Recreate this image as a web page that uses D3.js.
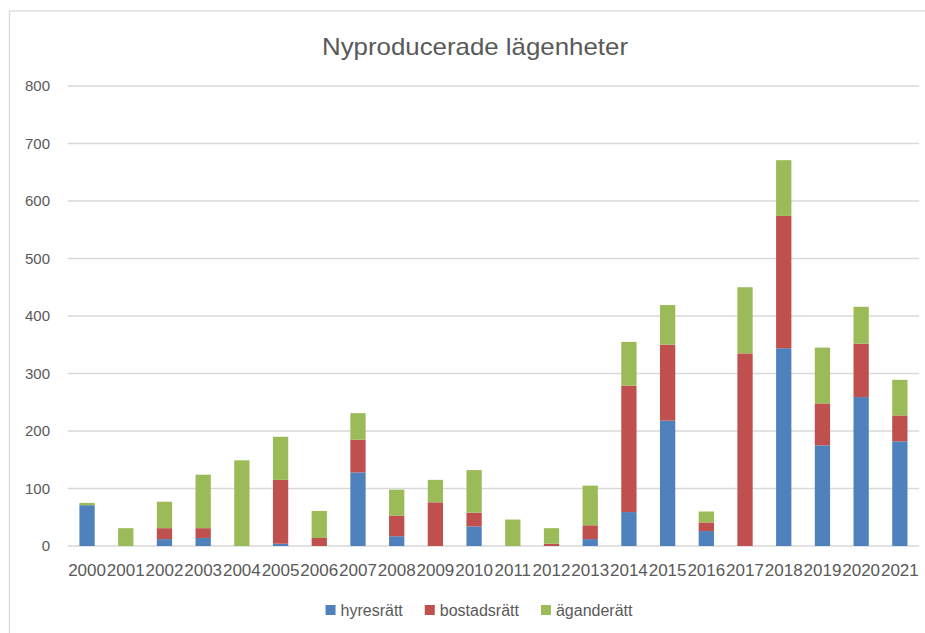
<!DOCTYPE html>
<html>
<head>
<meta charset="utf-8">
<script src="https://cdn.jsdelivr.net/npm/d3@7"></script>
<style>
  html, body { margin: 0; padding: 0; background: #fff; }
  svg { display: block; font-family: "Liberation Sans", Arial, sans-serif; }
</style>
</head>
<body>
<svg id="chart"></svg>
<script>
const width = 925;
const height = 633;

// -----------------------------
// DATA
// -----------------------------
const years = ["2000", "2001", "2002", "2003", "2004", "2005", "2006", "2007", "2008", "2009", "2010",
  "2011", "2012", "2013", "2014", "2015", "2016", "2017", "2018", "2019", "2020", "2021"];
const hyresratt = [71, 0, 12, 14, 0, 4, 0, 128, 17, 0, 34, 0, 0, 12, 59, 218, 26, 0, 344, 175, 259, 182];
const bostadsratt = [0, 0, 19, 17, 0, 111, 14, 57, 36, 76, 24, 0, 4, 24, 220, 132, 15, 335, 230, 73, 93, 45];
const aganderatt = [4, 31, 46, 93, 149, 75, 47, 46, 45, 39, 74, 46, 27, 69, 76, 69, 19, 115, 97, 97, 64, 62];
const seriesNames = ["hyresrätt", "bostadsrätt", "äganderätt"];
const seriesColors = ["#4F81BD", "#C0504D", "#9BBB59"];
const yTicks = [0, 100, 200, 300, 400, 500, 600, 700, 800];

const table = years.map((y, i) => ({
  year: y,
  "hyresrätt": hyresratt[i],
  "bostadsrätt": bostadsratt[i],
  "äganderätt": aganderatt[i]
}));

const svg = d3.select("#chart")
  .attr("width", width)
  .attr("height", height);

// chart frame (runs past the right/bottom edge)
svg.append("rect")
  .attr("x", 9.5).attr("y", 11)
  .attr("width", 1000).attr("height", 1000)
  .attr("fill", "#fff")
  .attr("stroke", "#d9d9d9")
  .attr("stroke-width", 1.3);

// -----------------------------
// SCALES
// -----------------------------
const plot = { left: 67.7, right: 919.2, top: 86, bottom: 546 };

const x = d3.scaleBand()
  .domain(years)
  .range([plot.left, plot.right])
  .paddingInner(0.605)
  .paddingOuter(0.3025);

const y = d3.scaleLinear()
  .domain([0, 800])
  .range([plot.bottom, plot.top]);

// -----------------------------
// GRID + Y LABELS
// -----------------------------
svg.append("g")
  .selectAll("line")
  .data(yTicks)
  .join("line")
  .attr("x1", plot.left)
  .attr("x2", plot.right)
  .attr("y1", d => y(d))
  .attr("y2", d => y(d))
  .attr("stroke", "#d9d9d9")
  .attr("stroke-width", 1.3);

svg.append("g")
  .selectAll("text")
  .data(yTicks)
  .join("text")
  .attr("x", 50)
  .attr("y", d => y(d))
  .attr("dy", "0.36em")
  .attr("text-anchor", "end")
  .attr("font-size", 15)
  .attr("fill", "#595959")
  .text(d => d);

// -----------------------------
// BARS
// -----------------------------
const stack = d3.stack().keys(seriesNames)(table);

svg.append("g")
  .selectAll("g")
  .data(stack)
  .join("g")
  .attr("fill", (d, i) => seriesColors[i])
  .selectAll("rect")
  .data(d => d)
  .join("rect")
  .attr("x", d => x(d.data.year))
  .attr("width", x.bandwidth())
  .attr("y", d => y(d[1]))
  .attr("height", d => y(d[0]) - y(d[1]));

// -----------------------------
// X LABELS
// -----------------------------
svg.append("g")
  .selectAll("text")
  .data(years)
  .join("text")
  .attr("x", d => x(d) + x.bandwidth() / 2)
  .attr("y", 576)
  .attr("text-anchor", "middle")
  .attr("font-size", 17)
  .attr("fill", "#595959")
  .text(d => d);

// -----------------------------
// TITLE
// -----------------------------
svg.append("text")
  .attr("x", 475)
  .attr("y", 55)
  .attr("text-anchor", "middle")
  .attr("font-size", 24)
  .attr("fill", "#595959")
  .attr("textLength", 306)
  .attr("lengthAdjust", "spacingAndGlyphs")
  .text("Nyproducerade lägenheter");

// -----------------------------
// LEGEND
// -----------------------------
const legend = svg.append("g");
const items = legend.selectAll("g")
  .data(seriesNames)
  .join("g");

items.append("rect")
  .attr("width", 10)
  .attr("height", 10)
  .attr("y", -5)
  .attr("fill", (d, i) => seriesColors[i]);

items.append("text")
  .attr("x", 15)
  .attr("dy", "0.36em")
  .attr("font-size", 16)
  .attr("fill", "#595959")
  .text(d => d);

let cursor = 0;
items.each(function () {
  const w = 15 + d3.select(this).select("text").node().getComputedTextLength();
  d3.select(this).attr("transform", `translate(${cursor},0)`);
  cursor += w + 22;
});
const legendWidth = cursor - 22;
legend.attr("transform", `translate(${479 - legendWidth / 2},610)`);
</script>
</body>
</html>
